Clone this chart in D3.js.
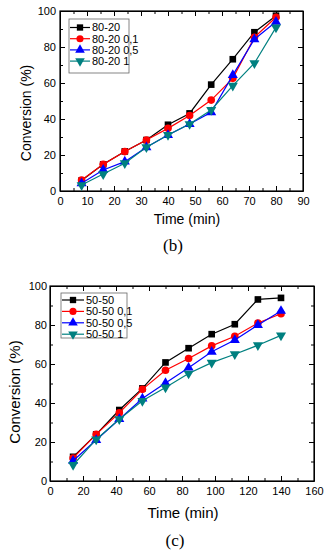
<!DOCTYPE html>
<html>
<head>
<meta charset="utf-8">
<script src="https://cdn.jsdelivr.net/npm/d3@7"></script>
<style>
  body { margin: 0; background: #fff; }
  svg { display: block; }
  .tick text { font-family: "Liberation Sans", Arial, sans-serif; fill: #000; }
  .domain { stroke: #000; }
</style>
</head>
<body>
<div id="container"></div>
<script>
// panel (b) data
var timeB = [8, 16, 24, 32, 40, 48, 56, 64, 72, 80];
var b8020 = [5.8, 14.8, 22, 28.3, 36.8, 43.1, 59.1, 73.2, 88.2, 97.4];
var b8020_01 = [6.1, 14.8, 21.9, 28.3, 34.8, 41.9, 50.5, 62.6, 85.4, 96.5];
var b8020_05 = [4.3, 11.7, 16.3, 24.3, 31.1, 37.2, 43.7, 64.4, 84.3, 94];
var b8020_1 = [3.3, 9.4, 15.4, 24.3, 31.1, 37.2, 45, 58.5, 71, 90.9];
var namesB = ["80-20", "80-20 0,1", "80-20 0,5", "80-20 1"];
var xTicksB = [0, 10, 20, 30, 40, 50, 60, 70, 80, 90];

// panel (c) data
var timeC = [14, 28, 42, 56, 70, 84, 98, 112, 126, 140];
var c5050 = [12.4, 23.9, 36.4, 47.5, 60.8, 68.1, 75.3, 80.4, 93.1, 93.9];
var c5050_01 = [11.8, 23.9, 35, 47, 56.8, 62.8, 69.3, 74.2, 81, 85.8];
var c5050_05 = [10.4, 21, 31.7, 42.3, 50.2, 58.1, 66.3, 72.3, 80, 87.2];
var c5050_1 = [8.2, 21.3, 31.7, 41.1, 48, 55.1, 60.7, 65, 69.6, 74.7];
var namesC = ["50-50", "50-50 0,1", "50-50 0,5", "50-50 1"];
var xTicksC = [0, 20, 40, 60, 80, 100, 120, 140, 160];

var yTicks = [0, 20, 40, 60, 80, 100];

var colors = ["#000000", "#ff0000", "#0000ff", "#008080"];
var shapes = [d3.symbolSquare, d3.symbolCircle, d3.symbolTriangle, d3.symbolTriangle];

var svg = d3.select("#container").append("svg")
	.attr("width", 328)
	.attr("height", 550);

function panel(cfg) {
	var x = d3.scaleLinear().domain(cfg.xDomain).range([cfg.left, cfg.right]);
	var y = d3.scaleLinear().domain([0, 100]).range([cfg.bottom, cfg.top]);
	var g = svg.append("g");

	var xMinor = d3.range(cfg.xDomain[0], cfg.xDomain[1] + 0.01, cfg.xStep / 2);
	var yMinor = d3.range(0, 100.01, 10);

	// minor ticks on all four sides
	[[d3.axisBottom, cfg.bottom, x, xMinor], [d3.axisTop, cfg.top, x, xMinor]].forEach(function (a) {
		g.append("g").attr("transform", "translate(0," + a[1] + ")")
			.call(a[0](a[2]).tickValues(a[3]).tickSize(-3).tickFormat(""))
			.call(function (s) { s.select(".domain").remove(); });
	});
	[[d3.axisLeft, cfg.left, y, yMinor], [d3.axisRight, cfg.right, y, yMinor]].forEach(function (a) {
		g.append("g").attr("transform", "translate(" + a[1] + ",0)")
			.call(a[0](a[2]).tickValues(a[3]).tickSize(-3).tickFormat(""))
			.call(function (s) { s.select(".domain").remove(); });
	});

	// major ticks
	g.append("g").attr("transform", "translate(0," + cfg.bottom + ")")
		.call(d3.axisBottom(x).tickValues(cfg.xTicks).tickSize(-5).tickSizeOuter(0).tickPadding(6))
		.selectAll("text").style("font-size", cfg.tickFont + "px");
	g.append("g").attr("transform", "translate(0," + cfg.top + ")")
		.call(d3.axisTop(x).tickValues(cfg.xTicks).tickSize(-5).tickSizeOuter(0).tickFormat(""));
	g.append("g").attr("transform", "translate(" + cfg.left + ",0)")
		.call(d3.axisLeft(y).tickValues(yTicks).tickSize(-5).tickSizeOuter(0).tickPadding(cfg.yPad))
		.selectAll("text").style("font-size", cfg.tickFont + "px");
	g.append("g").attr("transform", "translate(" + cfg.right + ",0)")
		.call(d3.axisRight(y).tickValues(yTicks).tickSize(-5).tickSizeOuter(0).tickFormat(""));

	g.append("rect")
		.attr("x", cfg.left).attr("y", cfg.top)
		.attr("width", cfg.right - cfg.left).attr("height", cfg.bottom - cfg.top)
		.attr("fill", "none").attr("stroke", "#000").attr("stroke-width", 1.2);

	var line = d3.line()
		.x(function (d) { return x(d[0]); })
		.y(function (d) { return y(d[1]); });

	cfg.series.forEach(function (vals, i) {
		var pts = cfg.time.map(function (t, j) { return [t, vals[j]]; });
		g.append("path").datum(pts)
			.attr("d", line)
			.attr("fill", "none")
			.attr("stroke", colors[i])
			.attr("stroke-width", 1.2);
		g.selectAll(".m" + i).data(pts).enter().append("path")
			.attr("d", d3.symbol().type(shapes[i]).size(i == 1 ? 46 : 44))
			.attr("transform", function (d) {
				return "translate(" + x(d[0]) + "," + y(d[1]) + ")" + (i == 3 ? " rotate(180)" : "");
			})
			.attr("fill", colors[i]);
	});

	// legend
	var lg = cfg.legend;
	g.append("rect")
		.attr("x", lg.x).attr("y", lg.y).attr("width", lg.w).attr("height", lg.h)
		.attr("fill", "#fff").attr("stroke", "#666").attr("stroke-width", 0.8);
	cfg.names.forEach(function (n, i) {
		var yy = lg.y + lg.first + i * lg.step;
		g.append("line")
			.attr("x1", lg.x + 1).attr("x2", lg.x + lg.lineW)
			.attr("y1", yy).attr("y2", yy)
			.attr("stroke", colors[i]).attr("stroke-width", 1.2);
		g.append("path")
			.attr("d", d3.symbol().type(shapes[i]).size(40))
			.attr("transform", "translate(" + (lg.x + lg.lineW / 2 + 0.5) + "," + yy + ")" + (i == 3 ? " rotate(180)" : ""))
			.attr("fill", colors[i]);
		g.append("text")
			.attr("x", lg.x + lg.lineW + 2).attr("y", yy)
			.attr("dy", "0.35em")
			.style("font-family", "Liberation Sans, Arial, sans-serif")
			.style("font-size", cfg.tickFont + "px")
			.text(n);
	});

	// titles
	g.append("text")
		.attr("x", cfg.xTitle[0]).attr("y", cfg.xTitle[1])
		.attr("text-anchor", "middle").attr("dy", "0.35em")
		.style("font-family", "Liberation Sans, Arial, sans-serif")
		.style("font-size", cfg.titleFont + "px")
		.text("Time (min)");
	g.append("text")
		.attr("transform", "translate(" + cfg.yTitle[0] + "," + cfg.yTitle[1] + ") rotate(-90)")
		.attr("text-anchor", "middle")
		.style("font-family", "Liberation Sans, Arial, sans-serif")
		.style("font-size", cfg.titleFont + "px")
		.text("Conversion (%)");
	g.append("text")
		.attr("x", cfg.tag[0]).attr("y", cfg.tag[1])
		.attr("text-anchor", "middle").attr("dy", "0.35em")
		.style("font-family", "Liberation Serif, Times New Roman, serif")
		.style("font-size", "17px")
		.text(cfg.tag[2]);
}

panel({
	left: 60, right: 303, top: 11, bottom: 191,
	xDomain: [0, 90], xStep: 10, xTicks: xTicksB, yPad: 4,
	time: timeB, series: [b8020, b8020_01, b8020_05, b8020_1], names: namesB,
	tickFont: 11, titleFont: 14,
	legend: {x: 69, y: 19, w: 60, h: 54, first: 8.5, step: 11.2, lineW: 21},
	xTitle: [187, 219], yTitle: [31, 113], tag: [173, 245, "(b)"]
});

panel({
	left: 50, right: 314, top: 286, bottom: 481,
	xDomain: [0, 160], xStep: 20, xTicks: xTicksC, yPad: 3,
	time: timeC, series: [c5050, c5050_01, c5050_05, c5050_1], names: namesC,
	tickFont: 11, titleFont: 15,
	legend: {x: 61, y: 293, w: 66, h: 45, first: 7, step: 11.4, lineW: 23},
	xTitle: [183, 513], yTitle: [20, 392], tag: [175, 540, "(c)"]
});
</script>
</body>
</html>
